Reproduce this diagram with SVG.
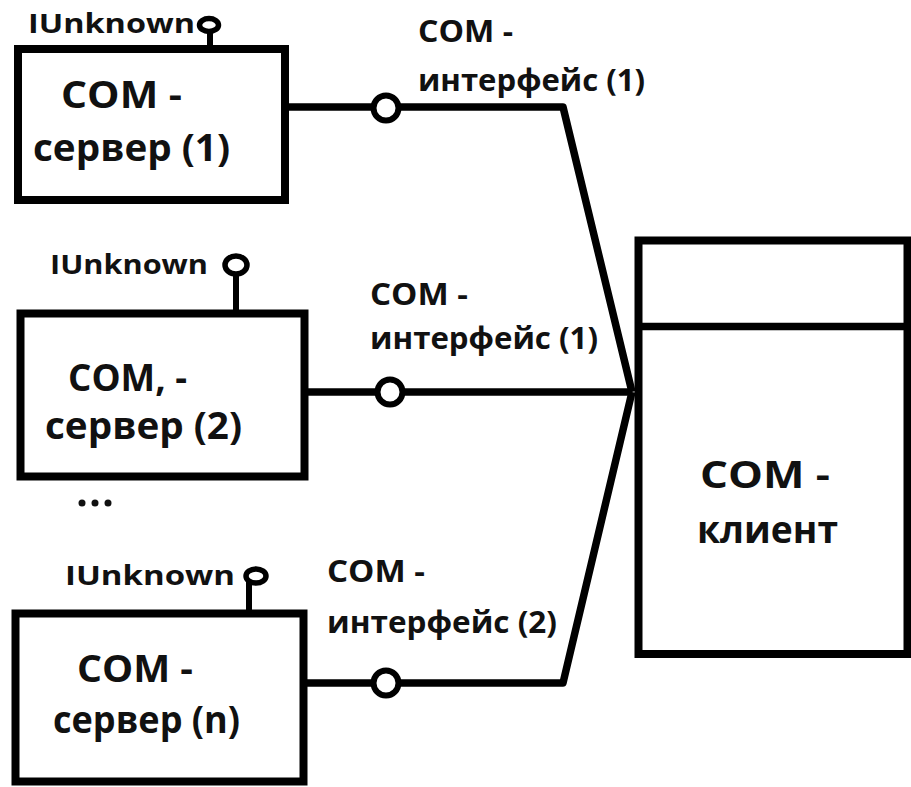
<svg xmlns="http://www.w3.org/2000/svg" width="911" height="787" viewBox="0 0 911 787">
<style>
.box{fill:#fff;stroke:#000;stroke-width:8}
.ln{fill:none;stroke:#000;stroke-width:7.5;stroke-linejoin:round}
.lol{fill:#fff;stroke:#000;stroke-width:6}
.iul{fill:#fff;stroke:#000;stroke-width:5.5}
.stem{stroke:#000;stroke-width:6}
.t{font-family:"Open Sans","Liberation Sans",sans-serif;font-weight:bold;fill:#111}
.big{font-size:38px}
.lab{font-size:30px}
.iu{font-size:26px}
</style>
<rect width="911" height="787" fill="#fff"/>
<g id="connectors">
<polyline class="ln" points="288,107 563,107 632,392"/>
<polyline class="ln" points="308,392 632,392"/>
<polyline class="ln" points="307,683 563,683 632,392"/>
<circle class="lol" cx="386" cy="108" r="12.5"/>
<circle class="lol" cx="390" cy="392" r="12.5"/>
<circle class="lol" cx="386" cy="683" r="12.5"/>
</g>
<g id="label1">
<text class="t lab" x="418" y="42" textLength="95" lengthAdjust="spacingAndGlyphs">COM -</text>
<text class="t lab" x="418" y="91" textLength="227" lengthAdjust="spacingAndGlyphs">интерфейс (1)</text>
</g>
<g id="label2">
<text class="t lab" x="370" y="305" textLength="98" lengthAdjust="spacingAndGlyphs">COM -</text>
<text class="t lab" x="370" y="349" textLength="228" lengthAdjust="spacingAndGlyphs">интерфейс (1)</text>
</g>
<g id="label3">
<text class="t lab" x="327" y="582" textLength="98" lengthAdjust="spacingAndGlyphs">COM -</text>
<text class="t lab" x="327" y="633" textLength="230" lengthAdjust="spacingAndGlyphs">интерфейс (2)</text>
</g>
<g id="server1">
<line class="stem" x1="210" y1="31" x2="210" y2="48"/>
<ellipse class="iul" cx="209" cy="25" rx="9.5" ry="6.5"/>
<text class="t iu" x="28" y="33" textLength="167" lengthAdjust="spacingAndGlyphs">IUnknown</text>
<rect class="box" x="18" y="49" width="267" height="151"/>
<text class="t big" x="61" y="108" textLength="121" lengthAdjust="spacingAndGlyphs">COM -</text>
<text class="t big" x="33" y="161" textLength="197" lengthAdjust="spacingAndGlyphs">сервер (1)</text>
</g>
<g id="server2">
<line class="stem" x1="236" y1="275" x2="236" y2="313"/>
<ellipse class="iul" cx="236" cy="265" rx="11" ry="9"/>
<text class="t iu" x="50" y="274" textLength="158" lengthAdjust="spacingAndGlyphs">IUnknown</text>
<rect class="box" x="20.5" y="313.5" width="284" height="163"/>
<text class="t big" x="68" y="391" textLength="119" lengthAdjust="spacingAndGlyphs">COM, -</text>
<text class="t big" x="45" y="439" textLength="197" lengthAdjust="spacingAndGlyphs">сервер (2)</text>
</g>
<g id="ellipsis">
<circle cx="82" cy="503" r="3.5" fill="#111"/>
<circle cx="95" cy="503" r="3.5" fill="#111"/>
<circle cx="108" cy="503" r="3.5" fill="#111"/>
</g>
<g id="serverN">
<line class="stem" x1="249" y1="582" x2="249" y2="613"/>
<ellipse class="iul" cx="256" cy="576" rx="10" ry="7"/>
<text class="t iu" x="65" y="585" textLength="170" lengthAdjust="spacingAndGlyphs">IUnknown</text>
<rect class="box" x="15.5" y="613.5" width="288" height="168"/>
<text class="t big" x="77" y="682" textLength="116" lengthAdjust="spacingAndGlyphs">COM -</text>
<text class="t big" x="53" y="733" textLength="187" lengthAdjust="spacingAndGlyphs">сервер (n)</text>
</g>
<g id="client">
<rect class="box" x="638.5" y="240.5" width="269" height="413.5"/>
<line class="ln" x1="638.5" y1="326.5" x2="907.5" y2="326.5"/>
<text class="t big" x="700" y="488" textLength="130" lengthAdjust="spacingAndGlyphs">COM -</text>
<text class="t big" x="697" y="543" textLength="141" lengthAdjust="spacingAndGlyphs">клиент</text>
</g>
</svg>
